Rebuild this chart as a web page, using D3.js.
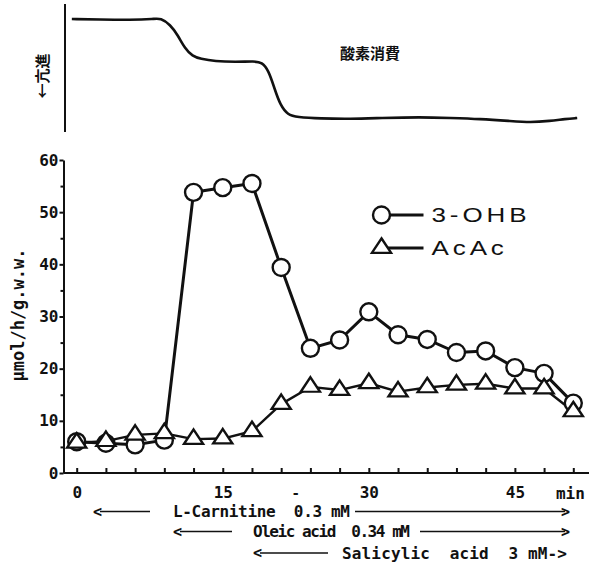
<!DOCTYPE html>
<html>
<head>
<meta charset="utf-8">
<script src="https://cdn.jsdelivr.net/npm/d3@7/dist/d3.min.js"></script>
<style>
body{margin:0;background:#fff;}
text{fill:#111;}
.mono{font-family:"DejaVu Sans Mono",monospace;font-weight:bold;}
.cjk{font-family:"Noto Sans CJK JP",sans-serif;font-weight:bold;}
.axis path,.axis line{stroke:#111;stroke-width:2;}
</style>
</head>
<body>
<script>
//dims
const width = 589, height = 566;

//sampling times (min) and rates (umol/h/g.w.w.)
const times = [0,3,6,9,12,15,18,21,24,27,30,33,36,39,42,45,48,51];
const ohb  = [6.0,5.7,5.4,6.3,53.8,54.7,55.5,39.4,23.9,25.5,30.9,26.5,25.6,23.1,23.4,20.2,19.1,13.4];
const acac = [5.8,6.1,7.3,7.6,6.5,6.6,8.0,13.2,16.5,15.9,17.2,15.6,16.4,16.9,17.1,16.2,16.2,11.8];
const yTicks = [0,10,20,30,40,50,60];
const yMinor = [5,15,25,35,45,55];
const xTicks = d3.range(0,52,3);
const xTickLabels = [0,15,30,45];

//oxygen consumption trace (relative level, 100 = start)
const traceTime  = [-0.5,2.4,5.5,8.0,8.6,9.6,10.4,11.1,11.9,12.7,14.2,16.3,18.3,19.0,19.7,20.3,20.9,21.7,22.6,25,28.1,31.2,35.3,38.4,41.4,44.5,46.6,48.6,50.2,51.4];
const traceLevel = [99.5,99,98.5,99.5,100.5,94,83,70,62,59.5,57,56.3,57,56,48,30,13,3,1,-0.5,-1,0,1,0,-1,-3,-4.5,-3,-1,0];

//legend
const series = [
	{name:'3-OHB', values:ohb, symbol:'circle'},
	{name:'AcAc', values:acac, symbol:'triangle'}
];

const svg = d3.select('body')
	.append('svg')
		.attr('width', width)
		.attr('height', height);

//scales
const x = d3.scaleLinear().domain([0,51]).range([76.7,573.3]);
const y = d3.scaleLinear().domain([0,60]).range([473,160]);
const yTop = d3.scaleLinear().domain([0,100]).range([118,18.5]);
const axisX = 63.5;

//---------------- top panel: O2 trace
svg.append('line')
		.attr('x1',65).attr('x2',65)
		.attr('y1',4).attr('y2',132)
		.attr('stroke','#111').attr('stroke-width',2);

svg.append('path')
		.datum(traceTime.map((t,i)=>[t,traceLevel[i]]))
		.attr('fill','none')
		.attr('stroke','#111')
		.attr('stroke-width',2.6)
		.attr('d', d3.line().x(d=>x(d[0])).y(d=>yTop(d[1])).curve(d3.curveBasis));

svg.append('text')
		.attr('class','cjk')
		.attr('x',340).attr('y',59)
		.style('font-size','15px')
		.text('酸素消費');

svg.append('text')
		.attr('class','cjk')
		.attr('transform','translate(43,76) rotate(-90)')
		.attr('text-anchor','middle')
		.attr('dy','0.35em')
		.style('font-size','15px')
		.text('←亢進');

//---------------- bottom panel axes
const yAxis = svg.append('g')
		.attr('class','axis mono')
		.attr('transform',`translate(${axisX},0)`)
		.call(d3.axisLeft(y).tickValues(yTicks).tickSize(4).tickSizeOuter(0).tickPadding(1).tickFormat(d3.format('d')));
yAxis.selectAll('text').style('font-size','16px').style('font-family','"DejaVu Sans Mono",monospace').style('font-weight','bold');
svg.append('g')
		.attr('class','axis')
		.attr('transform',`translate(${axisX},0)`)
		.call(d3.axisLeft(y).tickValues(yMinor).tickSize(3).tickFormat(''))
		.select('.domain').remove();

//baseline runs to the right edge
svg.append('line')
		.attr('x1',axisX).attr('x2',width)
		.attr('y1',y(0)).attr('y2',y(0))
		.attr('stroke','#111').attr('stroke-width',2);

svg.append('g')
		.attr('class','axis')
		.attr('transform',`translate(0,${y(0)})`)
		.call(d3.axisBottom(x).tickValues(xTicks).tickSize(-5).tickFormat(''))
		.select('.domain').remove();

const xLab = svg.append('g')
		.attr('transform',`translate(0,${y(0)})`)
		.call(d3.axisBottom(x).tickValues(xTickLabels).tickSize(0).tickPadding(14).tickFormat(d3.format('d')));
xLab.select('.domain').remove();
xLab.selectAll('text').style('font-size','16px').style('font-family','"DejaVu Sans Mono",monospace').style('font-weight','bold').attr('fill','#111');

svg.append('text').attr('class','mono')
		.attr('x',x(22.5)).attr('y',498).attr('text-anchor','middle')
		.style('font-size','14px').text('-');
svg.append('text').attr('class','mono')
		.attr('x',x(50.7)).attr('y',499).attr('text-anchor','middle')
		.style('font-size','16px').text('min');

//y title
svg.append('text')
		.attr('class','mono')
		.attr('transform','translate(18,315) rotate(-90)')
		.attr('text-anchor','middle')
		.attr('dy','0.35em')
		.style('font-size','17px')
		.text('μmol/h/g.w.w.');

//---------------- series
const line = d3.line().x((d,i)=>x(times[i])).y(d=>y(d));
svg.append('path').datum(ohb)
		.attr('fill','none').attr('stroke','#111').attr('stroke-width',3)
		.attr('stroke-linejoin','round')
		.attr('d',line);
svg.append('path').datum(acac)
		.attr('fill','none').attr('stroke','#111').attr('stroke-width',2.4)
		.attr('stroke-linejoin','round')
		.attr('d',line);

const tri = d3.symbol().type(d3.symbolTriangle).size(120);

svg.selectAll('.ohb')
		.data(ohb)
	.enter().append('circle')
		.attr('class','ohb')
		.attr('cx',(d,i)=>x(times[i]))
		.attr('cy',d=>y(d))
		.attr('r',8.5)
		.attr('fill','#fff').attr('stroke','#111').attr('stroke-width',2.4);

svg.selectAll('.acac')
		.data(acac)
	.enter().append('path')
		.attr('class','acac')
		.attr('transform',(d,i)=>`translate(${x(times[i])},${y(d)}) scale(1.15,1)`)
		.attr('d',tri)
		.attr('fill','#fff').attr('stroke','#111').attr('stroke-width',2.2);

//legend
const legend = svg.append('g').attr('transform','translate(381.5,215)');
legend.selectAll('g')
		.data(series)
	.enter().append('g')
		.attr('transform',(d,i)=>`translate(0,${i*33})`)
		.each(function(d){
			const g = d3.select(this);
			g.append('line').attr('x1',0).attr('x2',42).attr('stroke','#111').attr('stroke-width',3);
			if(d.symbol==='circle')
				g.append('circle').attr('r',8.5).attr('fill','#fff').attr('stroke','#111').attr('stroke-width',2.4);
			else
				g.append('path').attr('d',tri).attr('transform','scale(1.15,1)').attr('fill','#fff').attr('stroke','#111').attr('stroke-width',2.2);
			g.append('text')
					.attr('transform','translate(50,7) scale(1.3,1)')
					.style('font-family','"Liberation Sans",sans-serif')
					.style('font-size','20px')
					.style('letter-spacing','3px')
					.text(d.name);
		});

//---------------- treatment arrows
const rows = [
	{label:'L-Carnitine  0.3 mM', lx:93, ld:150, tx:173, tw:177, rx:355, y:511.5},
	{label:'Oleic acid  0.34 mM', lx:173, ld:232, tx:253, tw:157, rx:420, y:531.5},
	{label:'Salicylic  acid  3 mM->', lx:253, ld:328, tx:342, tw:225, rx:null, y:553}
];
rows.forEach(r=>{
	svg.append('text').attr('class','mono')
			.attr('x',r.lx).attr('y',r.y).attr('dy','0.35em')
			.style('font-size','15px').text('<');
	svg.append('line')
			.attr('x1',r.lx+7).attr('x2',r.ld)
			.attr('y1',r.y).attr('y2',r.y)
			.attr('stroke','#111').attr('stroke-width',1.6);
	svg.append('text').attr('class','mono')
			.attr('x',r.tx).attr('y',r.y).attr('dy','0.35em')
			.attr('textLength',r.tw).attr('lengthAdjust','spacing')
			.style('font-size','16px').style('white-space','pre')
			.text(r.label);
	if(r.rx!==null){
		svg.append('line')
				.attr('x1',r.rx).attr('x2',565)
				.attr('y1',r.y).attr('y2',r.y)
				.attr('stroke','#111').attr('stroke-width',1.6);
		svg.append('text').attr('class','mono')
				.attr('x',561).attr('y',r.y).attr('dy','0.35em')
				.style('font-size','15px').text('>');
	}
});
</script>
</body>
</html>
